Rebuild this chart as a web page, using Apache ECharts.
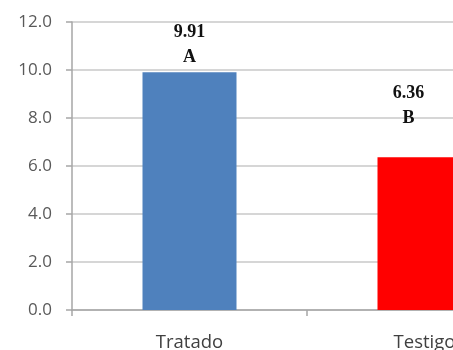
<!DOCTYPE html>
<html>
<head>
<meta charset="utf-8">
<script src="https://cdn.jsdelivr.net/npm/echarts@6/dist/echarts.min.js"></script>
<style>
  html, body { margin: 0; padding: 0; background: #fff; }
  #chart { width: 453px; height: 350px; }
</style>
</head>
<body>
<div id="chart"></div>
<script>
const categories = ['Tratado', 'Testigo']
const values = [9.91, 6.36]
const letters = ['A', 'B']
const barColors = ['#4f81bd', '#ff0000']

// label placement per bar (the original uses loose text boxes)
const labelGap = [2, 27]
const labelShift = [0, -16]

const chart = echarts.init(document.getElementById('chart'))

chart.setOption({
  animation: false,
  grid: {
    left: 72,
    top: 22,
    width: 470,
    height: 288,
    containLabel: false,
    outerBoundsMode: 'none'
  },
  xAxis: {
    type: 'category',
    data: categories,
    axisLine: { lineStyle: { color: '#a6a6a6', width: 1.5 } },
    axisTick: { show: true, length: 6, lineStyle: { color: '#a6a6a6', width: 1.5 } },
    axisLabel: {
      margin: 23,
      color: '#404040',
      fontFamily: 'Open Sans',
      fontSize: 18.5
    }
  },
  yAxis: {
    type: 'value',
    min: 0,
    max: 12,
    interval: 2,
    axisLine: { show: true, lineStyle: { color: '#a6a6a6', width: 1.5 } },
    axisTick: { show: true, length: 6, lineStyle: { color: '#a6a6a6', width: 1.5 } },
    axisLabel: {
      margin: 20,
      color: '#595959',
      fontFamily: 'Open Sans',
      fontSize: 17,
      formatter: v => v.toFixed(1)
    },
    splitLine: { lineStyle: { color: '#c8c8c8', width: 1.5 } }
  },
  series: [
    {
      type: 'bar',
      barWidth: '40%',
      data: values.map((v, i) => ({
        value: v,
        itemStyle: { color: barColors[i] },
        label: {
          show: true,
          position: 'top',
          distance: labelGap[i],
          offset: [labelShift[i], 0],
          formatter: () => v.toFixed(2) + '\n' + letters[i],
          color: '#111',
          fontFamily: 'Liberation Serif',
          fontWeight: 'bold',
          fontSize: 18,
          lineHeight: 25,
          align: 'center'
        }
      }))
    }
  ]
})
</script>
</body>
</html>
